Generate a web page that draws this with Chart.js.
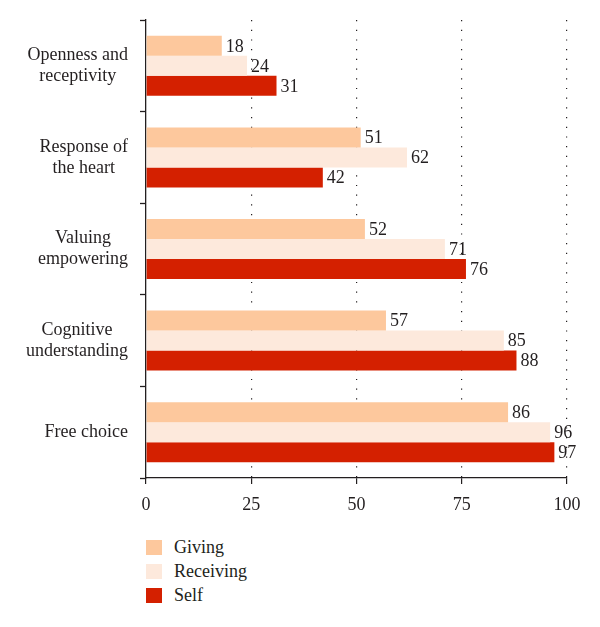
<!DOCTYPE html>
<html>
<head>
<meta charset="utf-8">
<script src="https://cdn.jsdelivr.net/npm/chart.js@4/dist/chart.umd.min.js"></script>
<style>
  html, body { margin: 0; padding: 0; background: #ffffff; }
  #wrap { position: relative; width: 600px; height: 627px; }
  #chartBox { position: absolute; left: 0; top: 0; width: 600px; height: 520px; }
  #legend { position: absolute; left: 146px; top: 535px; font-family: 'Liberation Serif', serif; font-size: 18px; color: #231f20; }
  .li { display: flex; align-items: center; height: 24px; }
  .sw { width: 16px; height: 15px; margin-right: 12px; }
</style>
</head>
<body>
<div id="wrap">
  <div id="chartBox"><canvas id="c" width="600" height="520"></canvas></div>
  <div id="legend"></div>
</div>
<script>
const categories = [
  ["Openness and", "receptivity"],
  ["Response of", "the heart"],
  ["Valuing", "empowering"],
  ["Cognitive", "understanding"],
  ["Free choice"]
];
const seriesNames = ["Giving", "Receiving", "Self"];
const giving = [18, 51, 52, 57, 86];
const receiving = [24, 62, 71, 85, 96];
const self = [31, 42, 76, 88, 97];
const xTicks = [0, 25, 50, 75, 100];

const colors = ["#fdc89d", "#fde9dc", "#d42000"];
const fontFam = "'Liberation Serif', serif";
const ink = "#231f20";

const valueLabels = {
  id: 'valueLabels',
  afterDatasetsDraw(chart) {
    const ctx = chart.ctx;
    ctx.save();
    ctx.font = "18px " + fontFam;
    ctx.fillStyle = ink;
    ctx.textAlign = 'left';
    ctx.textBaseline = 'middle';
    chart.data.datasets.forEach((ds, i) => {
      const meta = chart.getDatasetMeta(i);
      meta.data.forEach((bar, j) => {
        ctx.fillText(String(ds.data[j]), bar.x + 4, bar.y + 1);
      });
    });
    ctx.restore();
  }
};

// Right-align each label block, but centre its lines within the block
const blockAlign = {
  id: 'blockAlign',
  beforeDraw(chart) {
    const s = chart.scales.y;
    const items = s.getLabelItems();
    const ctx = chart.ctx;
    ctx.save();
    items.forEach(item => {
      if (item._blockDone) return;
      ctx.font = item.font.string;
      const lines = Array.isArray(item.label) ? item.label : [item.label];
      const w = Math.max(...lines.map(l => ctx.measureText(l).width));
      const right = item.options.translation[0];
      item.options.textAlign = 'center';
      item.options.translation[0] = right - w / 2;
      item._blockDone = true;
    });
    ctx.restore();
  }
};

const chart = new Chart(document.getElementById('c'), {
  type: 'bar',
  data: {
    labels: categories,
    datasets: [
      { label: seriesNames[0], data: giving, backgroundColor: colors[0] },
      { label: seriesNames[1], data: receiving, backgroundColor: colors[1] },
      { label: seriesNames[2], data: self, backgroundColor: colors[2] }
    ]
  },
  options: {
    indexAxis: 'y',
    responsive: false,
    animation: false,
    layout: { padding: { top: 20, right: 33, left: 0, bottom: 0 } },
    datasets: { bar: { categoryPercentage: 0.655, barPercentage: 1.0 } },
    plugins: { legend: { display: false }, tooltip: { enabled: false } },
    scales: {
      x: {
        min: 0, max: 100,
        afterBuildTicks(scale) { scale.ticks = xTicks.map(v => ({ value: v })); },
        afterFit(scale) { scale.height = 42; },
        ticks: { color: ink, font: { family: fontFam, size: 18 }, padding: 10 },
        grid: {
          color: (ctx) => ctx.tick && ctx.tick.value === 0 ? 'rgba(0,0,0,0)' : '#231f20',
          tickColor: ink,
          tickLength: 6,
          lineWidth: 1.2,
          tickWidth: 1.2
        },
        border: { display: true, color: ink, width: 1.3, dash: [1.2, 8.5] }
      },
      y: {
        afterFit(scale) { scale.width = 146; scale.paddingTop = 0; scale.paddingBottom = 0; },
        ticks: {
          color: ink,
          font: { family: fontFam, size: 18, lineHeight: 1.17 },
          crossAlign: 'near',
          padding: 12
        },
        grid: {
          drawOnChartArea: false,
          drawTicks: true,
          tickLength: 6,
          tickColor: ink,
          tickWidth: 1.3
        },
        border: { display: true, color: ink, width: 1.3 }
      }
    }
  },
  plugins: [valueLabels, blockAlign]
});

const legendEl = document.getElementById('legend');
chart.data.datasets.forEach(ds => {
  const row = document.createElement('div');
  row.className = 'li';
  const sw = document.createElement('span');
  sw.className = 'sw';
  sw.style.background = ds.backgroundColor;
  const t = document.createElement('span');
  t.textContent = ds.label;
  row.appendChild(sw);
  row.appendChild(t);
  legendEl.appendChild(row);
});
</script>
</body>
</html>
